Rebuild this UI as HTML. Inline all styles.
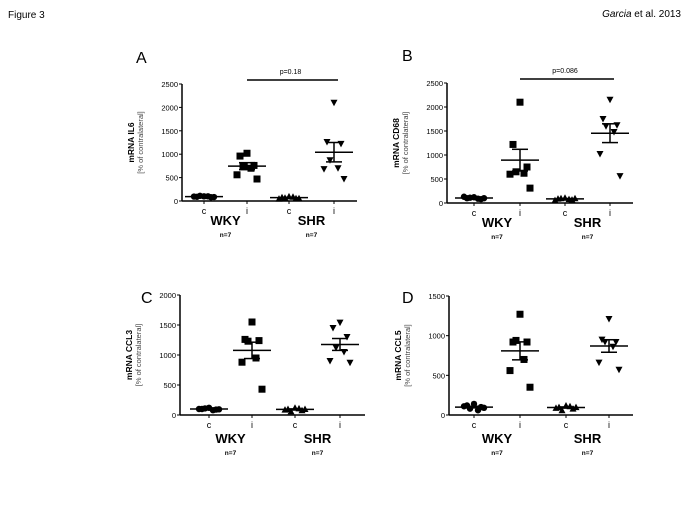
<!DOCTYPE html>
<html><head><meta charset="utf-8"><style>
body{margin:0;background:#fff;}
svg{display:block;font-family:"Liberation Sans",Arial,sans-serif;}
</style></head><body>
<svg id="fig" width="685" height="513" viewBox="0 0 685 513">
<text x="8" y="18" font-size="10">Figure 3</text>
<text x="681" y="17" font-size="10" text-anchor="end"><tspan font-style="italic">Garcia</tspan> et al. 2013</text>
</svg>
<script>
const groupLabels = ["c","i","c","i"];
const strainLabels = ["WKY","SHR"];
const panelLetters = ["A","B","C","D"];
const geneNames = ["mRNA IL6","mRNA CD68","mRNA CCL3","mRNA CCL5"];
const yMaxes = [2500,2500,2000,1500];
const yTicksA = [0,500,1000,1500,2000,2500];
const yTicksB = [0,500,1000,1500,2000,2500];
const yTicksC = [0,500,1000,1500,2000];
const yTicksD = [0,500,1000,1500];
const pLabels = ["p=0.18","p=0.086","",""];
const dataA = [[100,90,80,110,100,95,85],[1020,960,760,740,700,560,470],[100,80,60,70,90,50,60],[2100,1260,1220,870,700,680,470]];
const dataB = [[120,100,80,110,90,130,100],[2100,1220,750,650,620,600,310],[110,90,70,100,80,60,100],[2150,1750,1620,1600,1480,1020,560]];
const dataC = [[120,100,90,110,80,100,95],[1550,1260,1240,1230,950,880,430],[120,100,80,60,110,90,100],[1540,1450,1300,1120,1050,900,870]];
const dataD = [[140,120,100,80,60,110,90],[1270,920,920,940,700,560,350],[120,100,80,60,110,90,100],[1210,950,920,920,860,660,570]];
const allData=[dataA,dataB,dataC,dataD];
const allTicks=[yTicksA,yTicksB,yTicksC,yTicksD];
const layout=[
 {ax:182,y0:201,y1:84,xe:357,cx:[204,247,289,334],lx:136,ly:63,wy:225},
 {ax:447,y0:203,y1:83,xe:633,cx:[474,520,565,610],lx:402,ly:61,wy:227},
 {ax:180,y0:415,y1:295,xe:365,cx:[209,252,295,340],lx:141,ly:303,wy:443},
 {ax:449,y0:415,y1:296,xe:633,cx:[474,520,566,609],lx:402,ly:303,wy:443}];
const NS="http://www.w3.org/2000/svg";
const svg=document.getElementById('fig');
function mk(t,a,p,txt){const e=document.createElementNS(NS,t);for(const k in a)e.setAttribute(k,a[k]);if(txt!==undefined)e.textContent=txt;(p||svg).appendChild(e);return e;}
const offs=[0,-7,7,-4,4,-10,10];
allData.forEach((data,pi)=>{
 const L=layout[pi];const ymax=yMaxes[pi];
 const g=mk('g',{});
 
 
 const y=v=>L.y0-(v/ymax)*(L.y0-L.y1);
 let t=mk('text',{x:L.lx,y:L.ly,'font-size':16},g,panelLetters[pi]);
 
 let a=mk('line',{x1:L.ax,y1:L.y1,x2:L.ax,y2:L.y0,stroke:'#000','stroke-width':1.5},g);
 
 a=mk('line',{x1:L.ax,y1:L.y0,x2:L.xe,y2:L.y0,stroke:'#000','stroke-width':1.5},g);
 
 allTicks[pi].forEach(v=>{
  mk('line',{x1:L.ax-3,x2:L.ax,y1:y(v),y2:y(v),stroke:'#000'},g);
  const tl=mk('text',{x:L.ax-4,y:y(v)+3,'font-size':7.5,'text-anchor':'end'},g,v);
  
 });
 const ym=(L.y0+L.y1)/2;
 t=mk('text',{x:0,y:0,'font-size':8.5,'font-weight':'bold','text-anchor':'middle',transform:`translate(${L.ax-48},${ym}) rotate(-90)`},g,geneNames[pi]);
 
 t=mk('text',{x:0,y:0,'font-size':7.5,fill:'#444','text-anchor':'middle',transform:`translate(${L.ax-39},${ym}) rotate(-90)`},g,'[% of contralateral]');
 
 data.forEach((vals,gi)=>{
  const cx=L.cx[gi];
  mk('line',{x1:cx,x2:cx,y1:L.y0,y2:L.y0+3,stroke:'#000'},g);
  t=mk('text',{x:cx,y:L.y0+13,'font-size':9,'text-anchor':'middle'},g,groupLabels[gi]);
  
  vals.forEach((v,k)=>{
   const px=cx+offs[k],py=y(v);let m;
   if(gi===1) m=mk('rect',{x:px-3.5,y:py-3.5,width:7,height:7,fill:'#000'},g);
   else if(gi===0) m=mk('circle',{cx:px,cy:py,r:3.2,fill:'#000'},g);
   else if(gi===2) m=mk('polygon',{points:`${px-3.5},${py+3} ${px+3.5},${py+3} ${px},${py-3.5}`,fill:'#000'},g);
   else m=mk('polygon',{points:`${px-3.5},${py-3} ${px+3.5},${py-3} ${px},${py+3.5}`,fill:'#000'},g);
   
  });
  const n=vals.length,mean=vals.reduce((s,v)=>s+v,0)/n;
  const sd=Math.sqrt(vals.reduce((s,v)=>s+(v-mean)**2,0)/(n-1)),sem=sd/Math.sqrt(n);
  let ml=mk('line',{x1:cx-19,x2:cx+19,y1:y(mean),y2:y(mean),stroke:'#000','stroke-width':1.5},g);
  
  mk('line',{x1:cx,x2:cx,y1:y(mean-sem),y2:y(mean+sem),stroke:'#000','stroke-width':1.5},g);
  mk('line',{x1:cx-8,x2:cx+8,y1:y(mean+sem),y2:y(mean+sem),stroke:'#000','stroke-width':1.5},g);
  mk('line',{x1:cx-8,x2:cx+8,y1:y(mean-sem),y2:y(mean-sem),stroke:'#000','stroke-width':1.5},g);
 });
 strainLabels.forEach((s,si)=>{
  const cx=(L.cx[si*2]+L.cx[si*2+1])/2;
  t=mk('text',{x:cx,y:L.wy,'font-size':13,'font-weight':'bold','text-anchor':'middle'},g,s);
  
  t=mk('text',{x:cx,y:L.wy+12,'font-size':6.5,'font-weight':'bold','text-anchor':'middle'},g,'n=7');
  
 });
 if(pLabels[pi]){
  const by=L.y1-4;
  let b=mk('line',{x1:L.cx[1],x2:L.cx[3]+4,y1:by,y2:by,stroke:'#000','stroke-width':1.5},g);
  
  t=mk('text',{x:(L.cx[1]+L.cx[3])/2,y:by-6,'font-size':7,'text-anchor':'middle'},g,pLabels[pi]);
  
 }
});
</script>
</body></html>
